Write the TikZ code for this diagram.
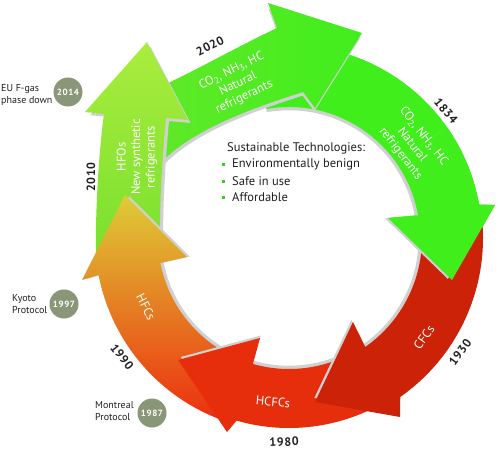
\documentclass[tikz,border=0pt]{standalone}
\usepackage{fontspec}
\setmainfont{PT Sans}
\newfontfamily\yearfont[LetterSpace=6.0]{PT Sans}
\usetikzlibrary{calc}
\definecolor{grn}{RGB}{64,238,28}
\definecolor{grnlight}{RGB}{100,232,42}
\definecolor{cfcred}{RGB}{204,34,8}
\definecolor{hcfcred}{RGB}{230,46,12}
\definecolor{hfcbot}{RGB}{236,46,14}
\definecolor{hfcmid}{RGB}{240,85,24}
\definecolor{hfctop}{RGB}{222,205,55}
\definecolor{hfotop}{RGB}{170,236,62}
\definecolor{hfobot}{RGB}{120,224,46}
\definecolor{shadowgray}{RGB}{208,208,208}
\definecolor{badge}{RGB}{138,150,120}
\definecolor{txtdark}{RGB}{35,31,32}
\definecolor{bulletgreen}{RGB}{60,205,40}

% arrow outlines (pixel coordinates, y downwards, centre of ring at (289,238))
\def\pathNat{($(289,238)+(-100:193)$) arc[start angle=-100,end angle=-10,radius=193] -- (495,205) -- (452,280) -- (388,218) -- ($(289,238)+(-10:131)$) arc[start angle=-10,end angle=-100,radius=131] -- cycle}
\def\pathNatHead{($(289,238)+(-35:193)$) arc[start angle=-35,end angle=-10,radius=193] -- (495,205) -- (452,280) -- (388,218) -- ($(289,238)+(-10:131)$) arc[start angle=-10,end angle=-35,radius=131] -- cycle}
\def\pathCFC{($(289,238)+(-6:194)$) arc[start angle=-6,end angle=55,radius=194] -- (400,417) -- (315,402) -- (353,322) -- ($(289,238)+(55:133)$) arc[start angle=55,end angle=3,radius=133] -- cycle}
\def\pathHCFC{($(289,238)+(62:190)$) arc[start angle=62,end angle=106,radius=190] -- (227,432) -- (178,360) -- (260,338) -- ($(289,238)+(106:131)$) arc[start angle=106,end angle=62,radius=131] -- cycle}
\def\pathHFC{($(289,238)+(110:194)$) arc[start angle=110,end angle=169,radius=194] -- (82,280) -- (125,195) -- (187,257) -- ($(289,238)+(169:131)$) arc[start angle=169,end angle=110,radius=131] -- cycle}
\def\pathHFO{(96,262) .. controls (95,210) and (99,150) .. (104,114) -- (85,112) -- (147,42) -- (188,120) -- (166,118) .. controls (162,160) and (159,210) .. (160,258) -- cycle}
\def\pathNew{(130,100) .. controls (180,80) and (230,50) .. (277,28) -- (268,3) -- (362,33) -- (315,108) -- (303,92) .. controls (240,112) and (180,135) .. (150,175) -- cycle}

\begin{document}
\begin{tikzpicture}[x=1pt,y=-1pt,
  arrowtxt/.style={text=white, font=\fontsize{12.5}{14.5}\selectfont, align=center, inner sep=0pt},
  yearlbl/.style={text=txtdark, font=\yearfont\bfseries\fontsize{12}{14}\selectfont, inner sep=0pt},
  badgecirc/.style={circle, fill=badge, minimum size=29pt, inner sep=0pt, text=white, font=\yearfont\bfseries\fontsize{9}{10}\selectfont},
  sidelbl/.style={text=txtdark, font=\fontsize{10}{12}\selectfont, align=left, inner sep=0pt, anchor=west},
  centertxt/.style={text=txtdark, font=\fontsize{12.5}{14}\selectfont, inner sep=0pt, anchor=west},
  bulletsq/.style={fill=bulletgreen, minimum size=3pt, inner sep=0pt},
  shadowtf/.style={scale around={0.975:(289,238)}}
]
\fill[white] (0,0) rectangle (500,452);
\useasboundingbox (0,0) rectangle (500,452);

% 1834 natural refrigerants (bottom of the stack)
\fill[shadowgray, shadowtf] \pathNat;
\fill[grn] \pathNat;
% 2020 natural refrigerants
\fill[shadowgray, shadowtf] \pathNew;
\shade[left color=grnlight, right color=grn] \pathNew;
% 2010 HFOs
\fill[shadowgray, shadowtf] \pathHFO;
\shade[top color=hfotop, bottom color=hfobot] \pathHFO;
% 1990 HFCs
\fill[shadowgray, shadowtf] \pathHFC;
\shade[top color=hfctop, middle color=hfcmid, bottom color=hfcbot] \pathHFC;
% 1980 HCFCs
\fill[shadowgray, shadowtf] \pathHCFC;
\fill[hcfcred] \pathHCFC;
% 1930 CFCs
\fill[shadowgray, shadowtf] \pathCFC;
\fill[cfcred] \pathCFC;
% head of the 1834 arrow lies over the CFC tail
\fill[shadowgray, shadowtf] \pathNatHead;
\fill[grn] \pathNatHead;

% texts on the arrows
\node[arrowtxt, rotate=-52] (t1834) at (412,145) {CO\textsubscript{2}, NH\textsubscript{3}, HC\\Natural\\refrigerants};
\node[arrowtxt, rotate=26] (t2020) at (238,84) {CO\textsubscript{2}, NH\textsubscript{3}, HC\\Natural\\refrigerants};
\node[arrowtxt, rotate=90] (thfo) at (137,157) {HFOs\\New synthetic\\refrigerants};
\node[arrowtxt, rotate=-63] (thfc) at (146,307) {HFCs};
\node[arrowtxt, rotate=-5] (thcfc) at (273,402) {HCFCs};
\node[arrowtxt, rotate=54] (tcfc) at (424,337) {CFCs};

% years
\node[yearlbl, rotate=27] (y2020) at (210,46) {2020};
\node[yearlbl, rotate=-50] (y1834) at (446,111) {1834};
\node[yearlbl, rotate=54] (y1930) at (460,352) {1930};
\node[yearlbl, rotate=3] (y1980) at (284,442) {1980};
\node[yearlbl, rotate=-52] (y1990) at (122,357) {1990};
\node[yearlbl, rotate=90] (y2010) at (91,177) {2010};

% milestones
\node[badgecirc] (b2014) at (68,92) {2014};
\node[sidelbl] (l2014) at (1,94.5) {EU F-gas\\phase down};
\node[badgecirc] (b1997) at (64,304) {1997};
\node[sidelbl] (l1997) at (12,304) {Kyoto\\Protocol};
\node[badgecirc] (b1987) at (152,413) {1987};
\node[sidelbl] (l1987) at (95,411) {Montreal\\Protocol};

% centre text
\node[centertxt] (head) at (227,148) {Sustainable Technologies:};
\node[bulletsq] (bu1) at (223.5,164.5) {};
\node[centertxt] (it1) at (232,164) {Environmentally benign};
\node[bulletsq] (bu2) at (223.5,181.5) {};
\node[centertxt] (it2) at (232,181) {Safe in use};
\node[bulletsq] (bu3) at (223.5,197.5) {};
\node[centertxt] (it3) at (232,197) {Affordable};
\end{tikzpicture}
\end{document}
